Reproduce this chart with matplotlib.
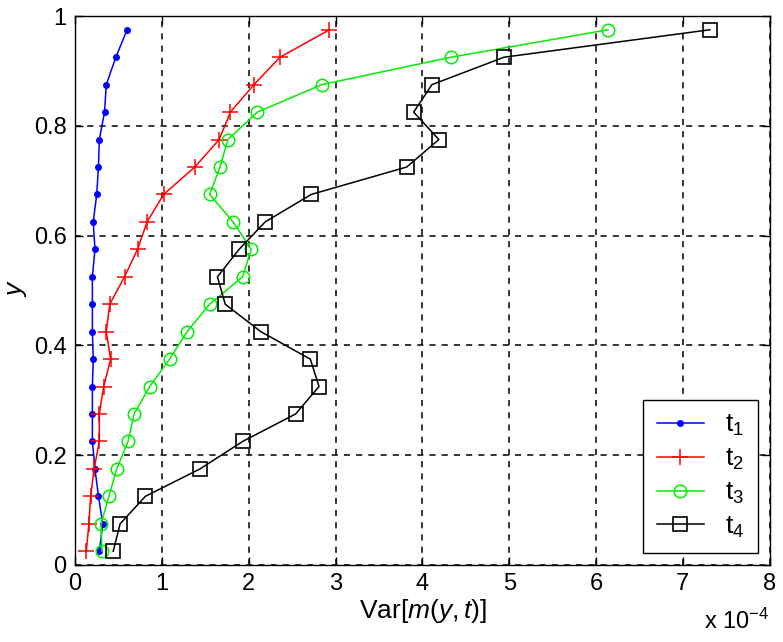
import matplotlib
matplotlib.use("Agg")
import matplotlib.pyplot as plt

# data (x in units of 1e-4)
y = [0.025, 0.075, 0.125, 0.175, 0.225, 0.275, 0.325, 0.375, 0.425, 0.475,
     0.525, 0.575, 0.625, 0.675, 0.725, 0.775, 0.825, 0.875, 0.925, 0.975]
t1 = [0.28, 0.32, 0.27, 0.23, 0.20, 0.20, 0.20, 0.21, 0.20, 0.20,
      0.20, 0.23, 0.21, 0.25, 0.27, 0.28, 0.34, 0.36, 0.47, 0.60]
t2 = [0.13, 0.16, 0.18, 0.22, 0.28, 0.28, 0.33, 0.41, 0.36, 0.40,
      0.57, 0.72, 0.83, 1.02, 1.38, 1.66, 1.79, 2.06, 2.36, 2.93]
t3 = [0.31, 0.30, 0.39, 0.48, 0.61, 0.68, 0.86, 1.09, 1.29, 1.55,
      1.93, 2.03, 1.82, 1.55, 1.67, 1.76, 2.10, 2.84, 4.33, 6.14]
t4 = [0.44, 0.52, 0.81, 1.44, 1.93, 2.54, 2.81, 2.71, 2.14, 1.73,
      1.64, 1.89, 2.19, 2.72, 3.82, 4.19, 3.90, 4.11, 4.94, 7.31]
labels = ['t$_1$', 't$_2$', 't$_3$', 't$_4$']
xticks = [0, 1, 2, 3, 4, 5, 6, 7, 8]
yticks = [0, 0.2, 0.4, 0.6, 0.8, 1]

plt.rcParams['font.family'] = ['Liberation Sans', 'DejaVu Sans']
plt.rcParams['mathtext.fontset'] = 'custom'
plt.rcParams['mathtext.rm'] = 'Liberation Sans'
plt.rcParams['mathtext.it'] = 'Liberation Sans:italic'

fig = plt.figure(figsize=(7.83, 6.42), dpi=100)
ax = fig.add_axes([0.0958, 0.12, 0.8872, 0.855])

ax.plot(t1, y, color='#0000ff', marker='.', markersize=8, lw=1.1, label=labels[0])
ax.plot(t2, y, color='#ff0000', marker='+', markersize=12, mew=1.1, lw=1.1, label=labels[1])
ax.plot(t3, y, color='#00ee00', marker='o', markersize=9, mfc='none', mew=1.1, lw=1.1, label=labels[2])
ax.plot(t4, y, color='black', marker='s', markersize=10, mfc='none', mew=1.2, lw=1.1, label=labels[3])

ax.set_xlim(0, 8)
ax.set_ylim(0, 1)
ax.set_xticks(xticks)
ax.set_yticks(yticks)
ax.set_yticklabels(['0', '0.2', '0.4', '0.6', '0.8', '1'])
ax.grid(True, color='black', linestyle=(0, (4, 4)), linewidth=1.1)
ax.tick_params(direction='in', top=True, right=True, length=6, width=1,
               labelsize=17, pad=6)
for s in ax.spines.values():
    s.set_linewidth(1.0)

ax.set_xlabel(r'Var[$\mathit{m(y,t)}$]', fontsize=19, labelpad=1)
ax.set_ylabel('y', fontsize=19, style='italic', labelpad=4)
fig.text(0.983, 0.012, r'x 10$^{-4}$', ha='right', va='bottom', fontsize=17)

leg = ax.legend(loc='lower right', fontsize=19, fancybox=False, framealpha=1,
                edgecolor='black', handlelength=1.8, borderaxespad=0.45,
                labelspacing=0.33, handletextpad=0.8, borderpad=0.5)
leg.get_frame().set_linewidth(1.0)

fig.savefig('out.png', dpi=100)
